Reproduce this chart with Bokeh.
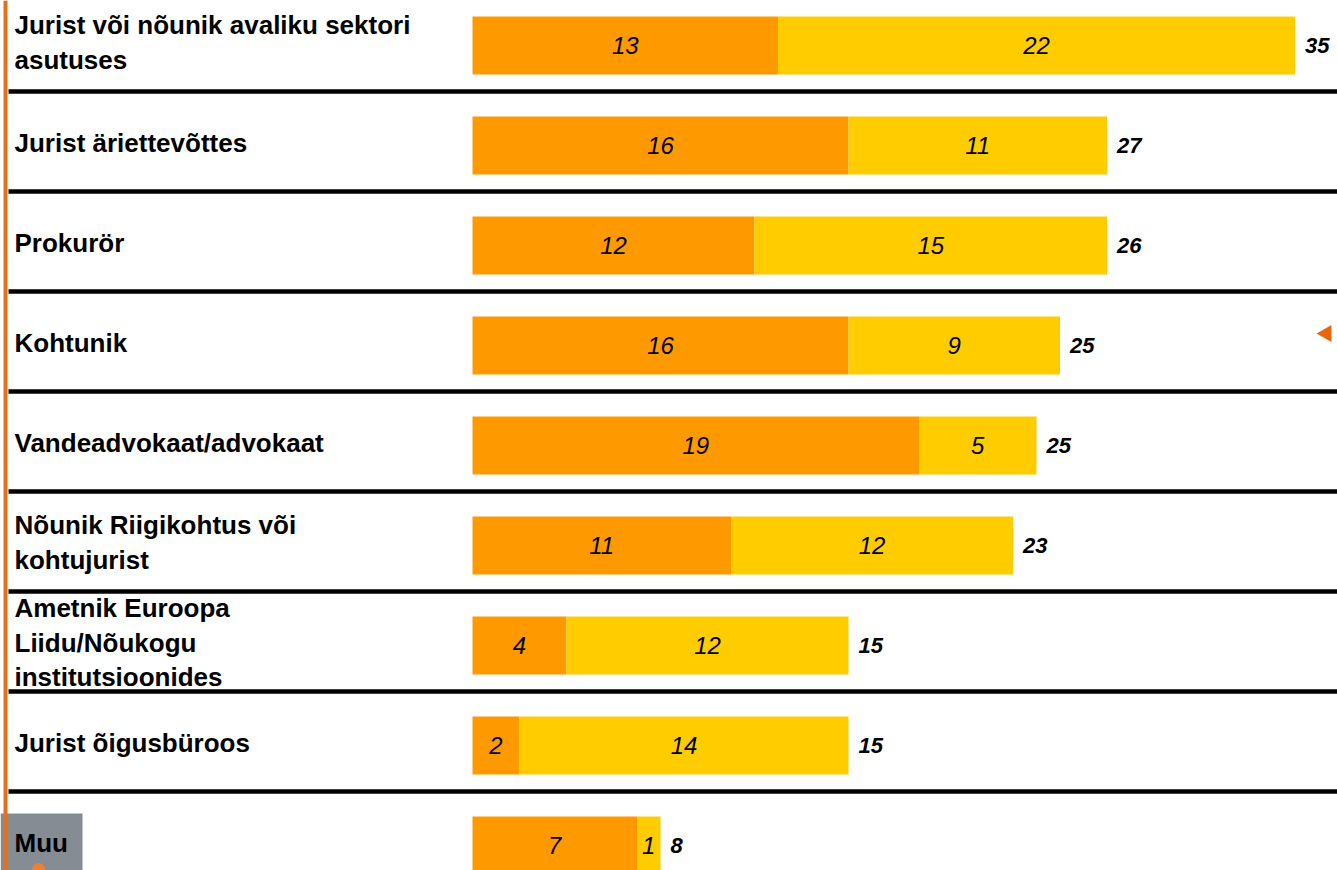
import math
from bokeh.plotting import figure
from bokeh.models import Range1d, ColumnDataSource
from bokeh.core.properties import value
from bokeh.embed import file_html
from bokeh.resources import INLINE

categories = [
    "Jurist või nõunik avaliku sektori\nasutuses",
    "Jurist äriettevõttes",
    "Prokurör",
    "Kohtunik",
    "Vandeadvokaat/advokaat",
    "Nõunik Riigikohtus või\nkohtujurist",
    "Ametnik Euroopa\nLiidu/Nõukogu\ninstitutsioonides",
    "Jurist õigusbüroos",
    "Muu",
]
orange_vals = [13, 16, 12, 16, 19, 11, 4, 2, 7]
yellow_vals = [22, 11, 15, 9, 5, 12, 12, 14, 1]
totals = [35, 27, 26, 25, 25, 23, 15, 15, 8]

ORANGE = "#FF9900"
YELLOW = "#FFCC00"
FONT = "Liberation Sans"

W, H = 1337, 870
SCALE = 23.5          # px per unit
X0 = 472              # px where value 0 sits
ROW_PX = 100
TOP_PX = 45

x_start = -X0 / SCALE
x_end = (W - X0) / SCALE
y_bottom = (H - TOP_PX) / ROW_PX
y_top = -TOP_PX / ROW_PX


def px_x(px):
    return x_start + px / SCALE


def px_y(py):
    return (py - TOP_PX) / ROW_PX


p = figure(width=W, height=H, output_backend="svg", toolbar_location=None,
           x_range=Range1d(x_start, x_end), y_range=Range1d(y_bottom, y_top),
           min_border=0, outline_line_color=None, background_fill_color="white",
           border_fill_color="white")
p.axis.visible = False
p.xgrid.visible = False
p.ygrid.visible = False

n = len(categories)
rows = list(range(n))
t_end = [o + y for o, y in zip(orange_vals, yellow_vals)]

src = ColumnDataSource(dict(
    y=rows, o=orange_vals, tend=t_end,
    o_mid=[o / 2 for o in orange_vals],
    y_mid=[o + y / 2 for o, y in zip(orange_vals, yellow_vals)],
    o_lbl=[str(v) for v in orange_vals],
    y_lbl=[str(v) for v in yellow_vals],
    t_lbl=[str(v) for v in totals],
    cat=categories,
    cat_x=[x_start] * n,
))

# separators between rows
sep_y = [i + 0.46 for i in range(n - 1)]
p.segment(x0=[px_x(8)] * len(sep_y), x1=[x_end] * len(sep_y),
          y0=sep_y, y1=sep_y, line_color="black", line_width=4.5)

# gray box behind "Muu"
p.quad(left=[x_start], right=[px_x(82)], top=[px_y(813)], bottom=[y_bottom],
       fill_color="#858C94", line_color=None)

# orange vertical line at left
p.quad(left=[px_x(3)], right=[px_x(7)], top=[y_top], bottom=[y_bottom],
       fill_color="#E8701A", line_color=None)

# bars
p.hbar(y="y", left=0, right="o", height=0.58, fill_color=ORANGE, line_color=None, source=src)
p.hbar(y="y", left="o", right="tend", height=0.58, fill_color=YELLOW, line_color=None, source=src)

# in-bar labels
for xcol, tcol in (("o_mid", "o_lbl"), ("y_mid", "y_lbl")):
    p.text(x=xcol, y="y", text=tcol, source=src, text_align="center",
           text_baseline="middle", text_font=value(FONT), text_font_size="24px",
           text_font_style="italic", text_color="black")

# totals
p.text(x="tend", y="y", text="t_lbl", source=src, x_offset=10, text_align="left",
       text_baseline="middle", text_font=value(FONT), text_font_size="22px",
       text_font_style="bold italic", text_color="black")

# category labels
p.text(x="cat_x", y="y", text="cat", source=src, x_offset=14, y_offset=-3,
       text_align="left", text_baseline="middle", text_font=value(FONT),
       text_font_size="26px", text_font_style="bold", text_color="black",
       text_line_height=1.15)

# orange dot at bottom-left
p.scatter(x=[px_x(38)], y=[px_y(869)], size=13,
          marker="circle", fill_color="#F08030", line_color=None)

# arrow at right
p.scatter(x=[px_x(1326)], y=[px_y(333)], size=17,
          marker="triangle", angle=math.pi / 2, fill_color="#E8650A", line_color=None)

open("out.html", "w").write(file_html(p, INLINE))
